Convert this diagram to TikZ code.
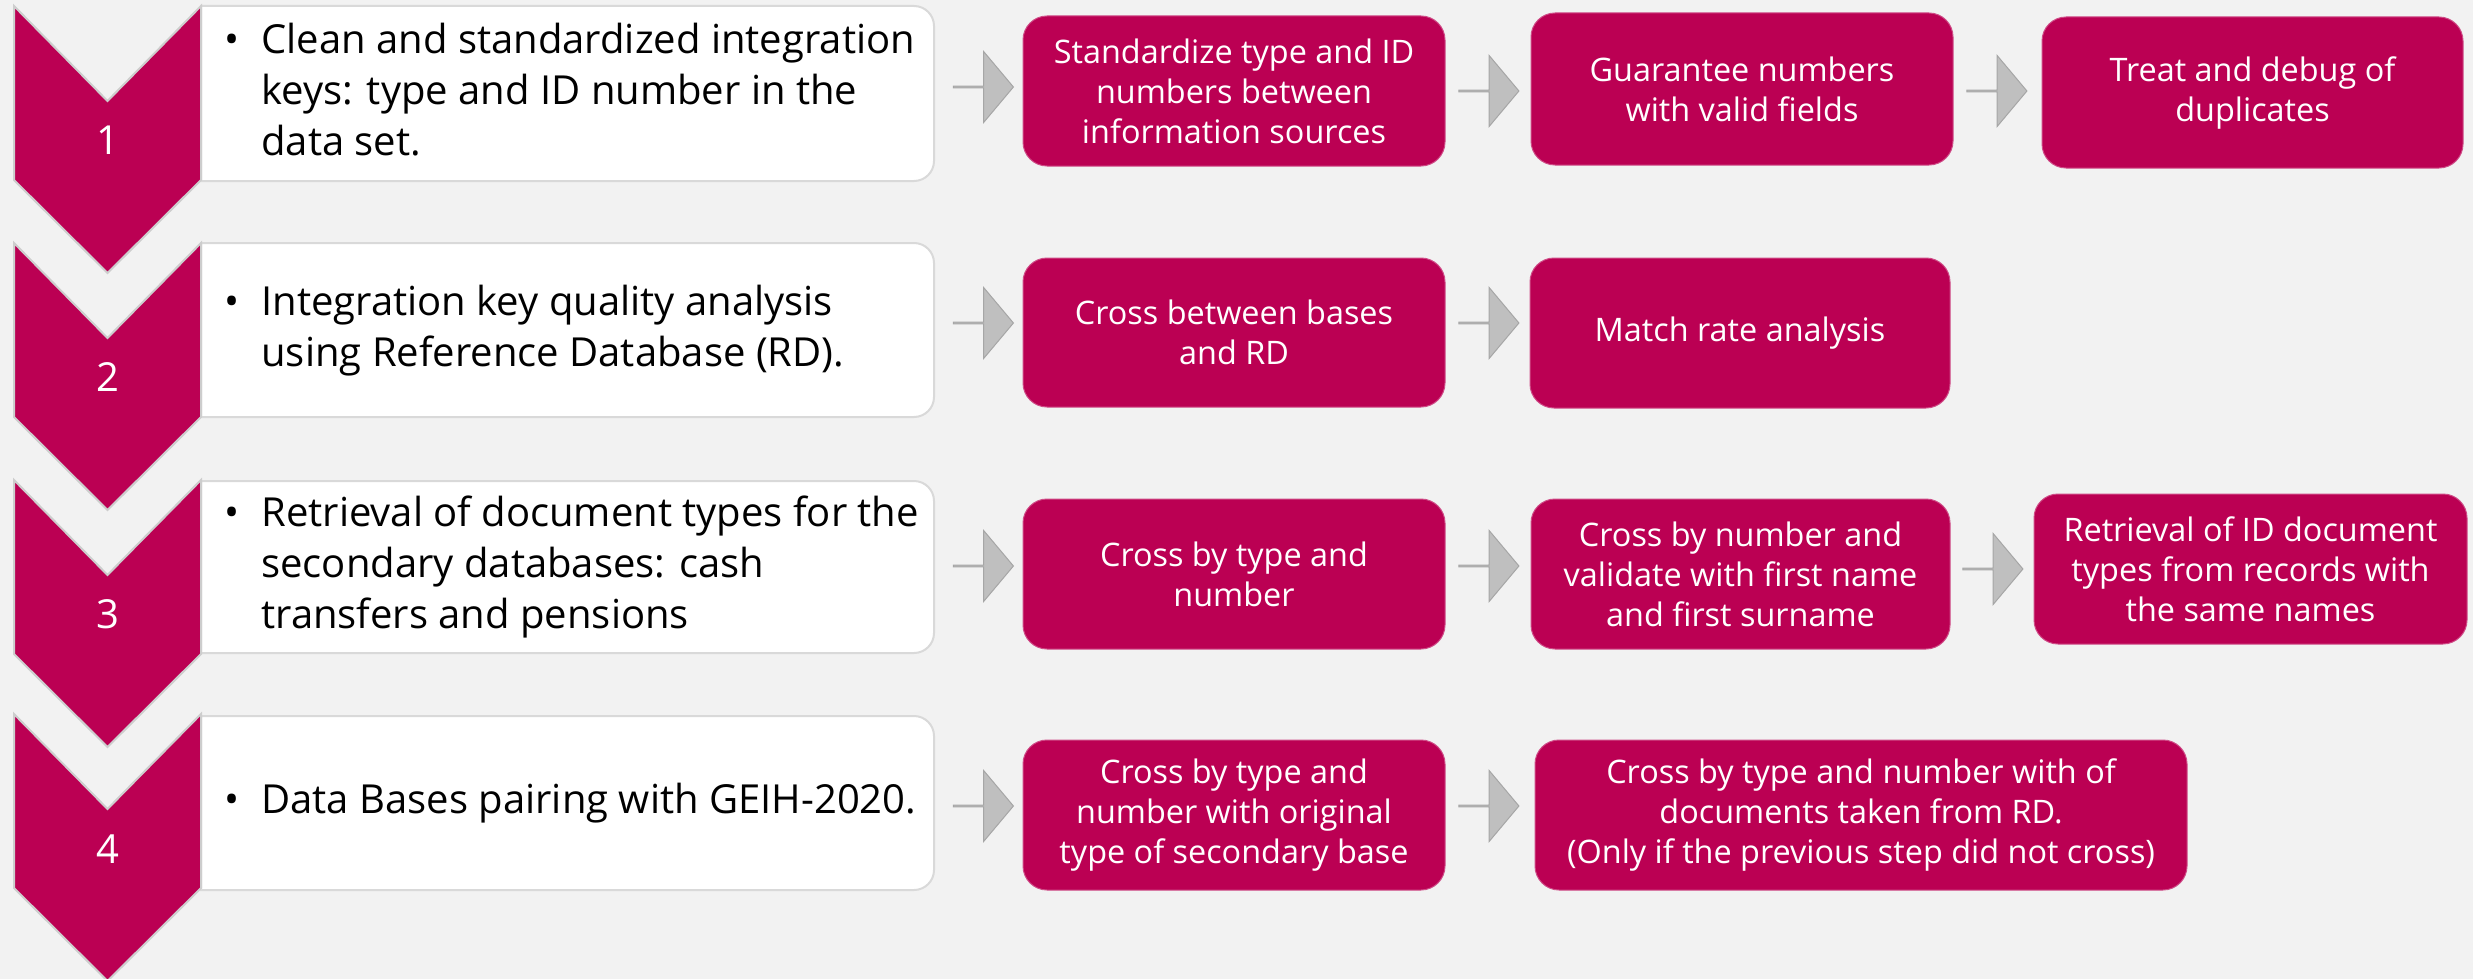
\documentclass[tikz,border=0pt]{standalone}
\usepackage{fontspec}
\setmainfont{Open Sans}
\usetikzlibrary{shapes.arrows}
\definecolor{mag}{RGB}{187,0,83}
\definecolor{bg}{RGB}{242,242,242}
\definecolor{wborder}{RGB}{217,217,217}
\definecolor{chevborder}{RGB}{205,205,205}
\definecolor{arrfill}{RGB}{191,191,191}
\definecolor{arrborder}{RGB}{166,166,166}
\tikzset{
  chev/.style={fill=mag, draw=chevborder, line width=1pt, line join=miter},
  wbox/.style={fill=white, draw=wborder, line width=1pt},
  wtext/.style={anchor=west, inner sep=0pt, text=black, font=\fontsize{20}{25.5}\selectfont},
  num/.style={text=white, inner sep=0pt, font=\fontsize{20}{24}\selectfont},
  mbox/.style={fill=mag, draw=mag!70!white, line width=0.5pt, rounded corners=12pt, text=white,
    align=center, inner sep=0pt, font=\fontsize{16.2}{20}\selectfont},
  garrow/.style={single arrow, fill=arrfill, draw=arrborder, line width=0.5pt, inner sep=0pt, outer sep=0pt,
    minimum height=30pt, minimum width=35.5pt, single arrow head extend=9pt, single arrow tip angle=100},
}
\newcommand{\wtab}[1]{\begin{tabular}{@{}l@{}l@{}}\makebox[18.5pt][l]{•}&#1\end{tabular}}
\newcommand{\chevron}[1]{%
  \draw[chev] (14,#1) -- (107.5,#1+95) -- (201,#1) -- (201,#1+174) -- (107.5,#1+267) -- (14,#1+174) -- cycle;}
\newcommand{\whitebox}[2]{%
  \draw[wbox] (201,#1) -- (914,#1) arc[start angle=90,end angle=0,radius=10pt] -- (934,#2-20)
    arc[start angle=0,end angle=-90,radius=10pt] -- (201,#2) -- cycle;}
\begin{document}
\begin{tikzpicture}[x=0.5pt,y=-0.5pt]
\fill[bg] (0,0) rectangle (2473,979);
\useasboundingbox (0,0) rectangle (2473,979);
% white boxes
\whitebox{6}{181}
\whitebox{243}{417}
\whitebox{481}{653}
\whitebox{716}{890}
% chevrons
\chevron{6}
\chevron{243}
\chevron{480}
\chevron{714}
\node[num] (n1) at (107.5,140) {1};
\node[num] (n2) at (107.5,377) {2};
\node[num] (n3) at (107.5,614) {3};
\node[num] (n4) at (107.5,849) {4};
% white texts
\node[wtext] (t1) at (224,94) {\wtab{Clean and standardized integration\\&keys: type and ID number in the\\&data set.}};
\node[wtext] (t2) at (224,331) {\wtab{Integration key quality analysis\\&using Reference Database (RD).}};
\node[wtext] (t3) at (224,567) {\wtab{Retrieval of document types for the\\&secondary databases: cash\\&transfers and pensions}};
\node[wtext] (t4) at (224,803) {\wtab{Data Bases pairing with GEIH-2020.}};
% magenta boxes
\node[mbox, minimum width=211pt, minimum height=75pt] (m11) at (1234,91) {Standardize type and ID\\numbers between\\information sources};
\node[mbox, minimum width=211pt, minimum height=76pt] (m12) at (1742,89) {Guarantee numbers\\with valid fields};
\node[mbox, minimum width=210.5pt, minimum height=75.5pt] (m13) at (2252.5,92.5) {Treat and debug of\\duplicates};
\node[mbox, minimum width=211pt, minimum height=74.5pt] (m21) at (1234,332.5) {Cross between bases\\and RD};
\node[mbox, minimum width=210pt, minimum height=75pt] (m22) at (1740,333) {Match rate analysis};
\node[mbox, minimum width=211pt, minimum height=75pt] (m31) at (1234,574) {Cross by type and\\number};
\node[mbox, minimum width=209.5pt, minimum height=75pt] (m32) at (1740.5,574) {Cross by number and\\validate with first name\\and first surname};
\node[mbox, minimum width=216.5pt, minimum height=75pt] (m33) at (2250.5,569) {Retrieval of ID document\\types from records with\\the same names};
\node[mbox, minimum width=211pt, minimum height=75pt] (m41) at (1234,815) {Cross by type and\\number with original\\type of secondary base};
\node[mbox, minimum width=326pt, minimum height=75pt] (m42) at (1861,815) {Cross by type and number with of\\documents taken from RD.\\(Only if the previous step did not cross)};
% arrows
\node[garrow] (a11) at (983,87) {};
\node[garrow] (a12) at (1488.5,91) {};
\node[garrow] (a13) at (1996.5,91) {};
\node[garrow] (a21) at (983,323) {};
\node[garrow] (a22) at (1488.5,323) {};
\node[garrow] (a31) at (983,566) {};
\node[garrow] (a32) at (1488.5,566) {};
\node[garrow] (a33) at (1992.5,569) {};
\node[garrow] (a41) at (983,806) {};
\node[garrow] (a42) at (1488.5,806) {};
\end{tikzpicture}
\end{document}
